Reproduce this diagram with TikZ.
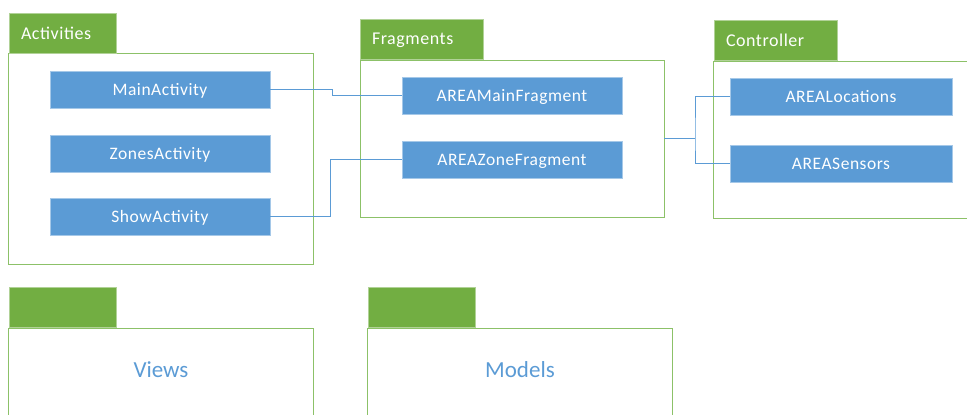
\documentclass[tikz,border=0pt]{standalone}
\usepackage{fontspec}
\setmainfont{Carlito}[LetterSpace=3]
\newfontfamily\plainfam{Carlito}
\usetikzlibrary{calc}
\definecolor{boxblue}{HTML}{5B9BD5}
\definecolor{tabgreen}{HTML}{72AE42}
\definecolor{bodygreen}{HTML}{8CC168}
\definecolor{lineblue}{HTML}{5B9BD5}
\tikzset{
  blk/.style={fill=boxblue, draw=boxblue!55!white, line width=0.7pt, text=white,
    font=\fontsize{17.5}{20}\selectfont, inner sep=0pt, outer sep=0pt, text depth=0pt,
    minimum width=220pt, minimum height=37pt, anchor=north west},
  tabbox/.style={fill=tabgreen, draw=tabgreen!55!white, line width=0.7pt, text=white,
    font=\fontsize{18}{21}\selectfont, inner ysep=0pt, inner xsep=12pt, outer sep=0pt,
    align=left, text depth=0pt, minimum height=40pt, anchor=north west},
  body/.style={draw=bodygreen, line width=0.9pt, inner sep=0pt, outer sep=0pt, anchor=north west},
  bigtext/.style={text=boxblue, font=\plainfam\fontsize{23}{26}\selectfont, inner sep=0pt},
  conn/.style={draw=lineblue, line width=1pt}
}
\begin{document}
\begin{tikzpicture}[x=1pt,y=-1pt]
\useasboundingbox (0,0) rectangle (967,415);
\begin{scope}
\clip (0,0) rectangle (967,415);
% containers
\node[body, minimum width=305pt, minimum height=211pt] (act) at (8,53) {};
\node[tabbox, text width=83pt] (acttab) at (9,13) {Activities};
\node[body, minimum width=304pt, minimum height=157pt] (frag) at (360,60) {};
\node[tabbox, text width=99pt] (fragtab) at (360,19) {Fragments};
\node[body, minimum width=270pt, minimum height=157pt] (ctrl) at (713,61) {};
\node[tabbox, text width=99pt] (ctrltab) at (714,20) {Controller};
\node[body, minimum width=305pt, minimum height=100pt] (views) at (8,328) {};
\node[tabbox, text width=83pt] (viewstab) at (9,287) {};
\node[body, minimum width=305pt, minimum height=100pt] (models) at (367,328) {};
\node[tabbox, text width=83pt] (modelstab) at (368,287) {};
\node[bigtext] (viewslbl) at (161,370) {Views};
\node[bigtext] (modelslbl) at (520,370) {Models};
% blocks
\node[blk] (main) at (50,71) {MainActivity};
\node[blk] (zones) at (50,135) {ZonesActivity};
\node[blk] (show) at (50,198) {ShowActivity};
\node[blk] (mfrag) at (402,77) {AREAMainFragment};
\node[blk] (zfrag) at (402,141) {AREAZoneFragment};
\node[blk, minimum width=222pt] (loc) at (730,78) {AREALocations};
\node[blk, minimum width=222pt] (sens) at (730,145) {AREASensors};
% connectors
\coordinate (j1) at (332,0);
\coordinate (j2) at (330,0);
\coordinate (j3) at (695,0);
\draw[conn] (main.east) -- (main.east -| j1) |- (mfrag.west);
\draw[conn] (show.east) -- (show.east -| j2) |- (zfrag.west);
\draw[conn] (frag.east) -- (frag.east -| j3);
\draw[conn] (loc.west) -| (frag.east -| j3) |- (sens.west);
\end{scope}
\end{tikzpicture}
\end{document}
